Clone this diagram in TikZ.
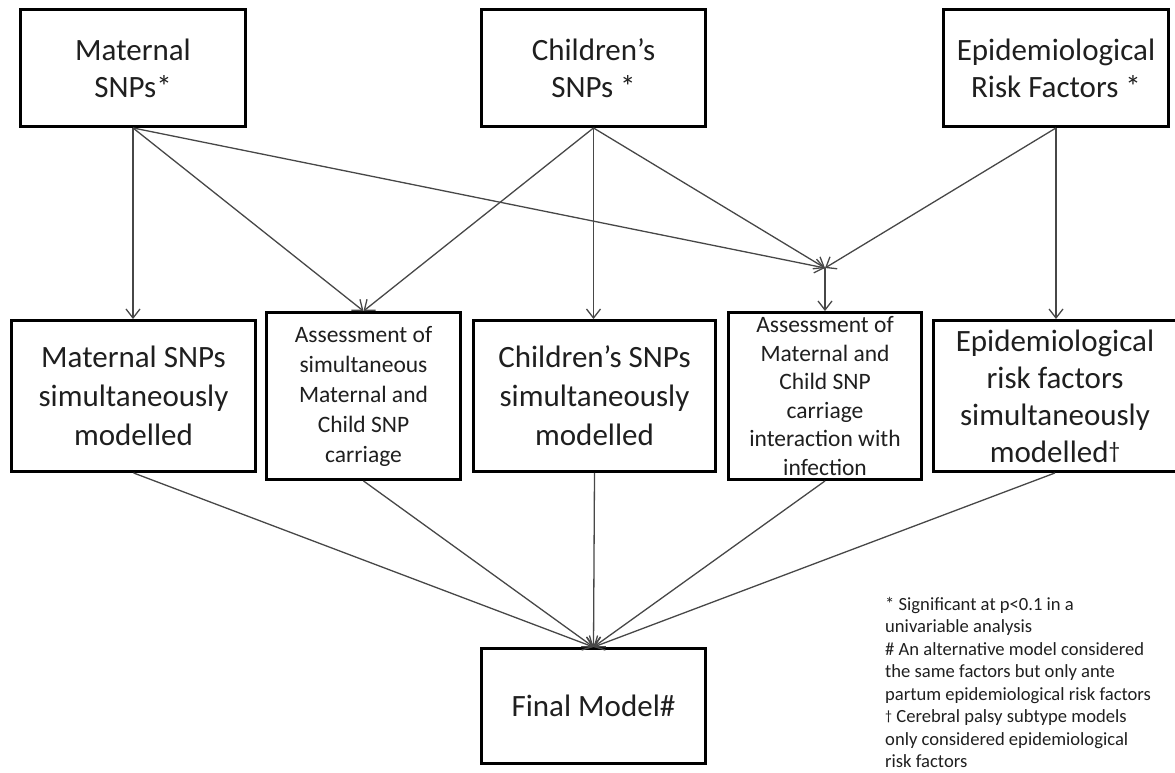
\documentclass[tikz,border=0pt]{standalone}
\usepackage{fontspec}
\setmainfont{Carlito}
\usetikzlibrary{arrows.meta}
\newcommand{\smalldag}{\raisebox{0.25ex}{\scalebox{0.75}{†}}}
\begin{document}
\begin{tikzpicture}[x=1pt,y=-1pt,
  box/.style={draw=black, line width=3.4pt, fill=white, align=center, inner sep=0pt, text=black!88},
  big/.style={font=\fontsize{31}{37}\selectfont},
  midbig/.style={font=\fontsize{31}{39}\selectfont},
  conn/.style={draw=black!72, line width=1.3pt, -{Straight Barb[length=9pt,width=14pt,line width=1.3pt]}}]
\useasboundingbox (0,0) rectangle (1175,773);
% top row
\node[box, big, minimum width=224.5pt, minimum height=116.5pt] (m) at (133,68) {Maternal\\SNPs*};
\node[box, big, minimum width=223.5pt, minimum height=116.5pt] (c) at (593.5,68) {Children’s\\SNPs *};
\node[box, big, minimum width=224.5pt, minimum height=116.5pt] (e) at (1056,68) {Epidemiological\\Risk Factors *};
% middle row
\node[box, midbig, minimum width=243.5pt, minimum height=150.5pt] (b1) at (133.5,396) {Maternal SNPs\\simultaneously\\modelled};
\node[box, font=\fontsize{23.5}{30}\selectfont, minimum width=193.5pt, minimum height=166.5pt] (b2) at (363.5,396) {Assessment of\\simultaneous\\Maternal and\\Child SNP\\carriage};
\node[box, midbig, minimum width=241.5pt, minimum height=150.5pt] (b3) at (594.5,396) {Children’s SNPs\\simultaneously\\modelled};
\node[box, font=\fontsize{23.5}{28.5}\selectfont, minimum width=192.5pt, minimum height=166.5pt] (b4) at (825,396) {Assessment of\\Maternal and\\Child SNP\\carriage\\interaction with\\infection};
\node[box, font=\fontsize{31}{37}\selectfont, minimum width=242.5pt, minimum height=150.5pt] (b5) at (1055,396) {Epidemiological\\risk factors\\simultaneously\\modelled\smalldag};
% final
\node[box, big, minimum width=223.5pt, minimum height=114.5pt] (f) at (593.5,706) {Final Model\#};
% junction
\coordinate (j) at (825,268);
% connectors top -> middle
\draw[conn] (m.south) -- (m.south |- b1.north);
\draw[conn] (m.south) -- (b2.north);
\draw[conn] (m.south) -- (j);
\draw[conn] (c.south) -- (b2.north);
\draw[conn] (c.south) -- (c.south |- b3.north);
\draw[conn] (c.south) -- (j);
\draw[conn] (e.south) -- (j);
\draw[conn] (e.south) -- (e.south |- b5.north);
\draw[conn] (j) -- (b4.north);
% middle -> final
\draw[conn] (b1.south) -- (f.north);
\draw[conn] (b2.south) -- (f.north);
\draw[conn] (b3.south) -- (f.north);
\draw[conn] (b4.south) -- (f.north);
\draw[conn] (b5.south) -- (f.north);
% footnote
\node[anchor=north west, inner sep=0pt, align=left, text=black!88, font=\fontsize{18.6}{22.5}\selectfont] (note) at (885,597) {* Significant at p<0.1 in a\\univariable analysis\\\# An alternative model considered\\the same factors but only ante\\partum epidemiological risk factors\\\smalldag{} Cerebral palsy subtype models\\only considered epidemiological\\risk factors};
\end{tikzpicture}
\end{document}
